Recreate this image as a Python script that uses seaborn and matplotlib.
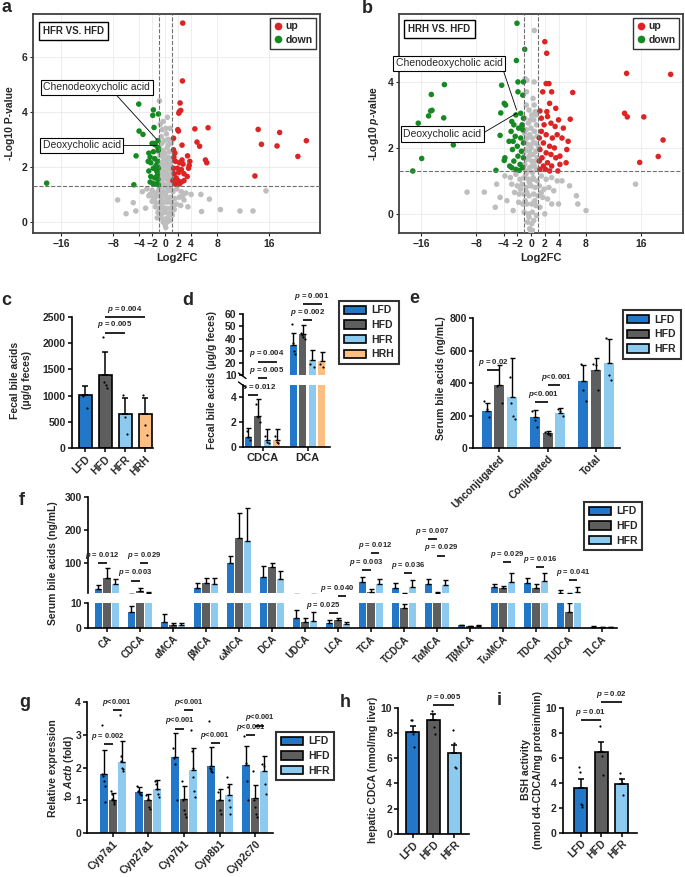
import numpy as np
import pandas as pd
import matplotlib
matplotlib.use("Agg")
import matplotlib.pyplot as plt
import seaborn as sns
from matplotlib.lines import Line2D
from matplotlib.patches import Patch

# ---------------- volcano data (log2FC, -log10 p) ----------------
a_ns = [(-0.87, 4.4), (-0.3, 3.65), (0.75, 3.4), (0.2, 3.2), (-0.6, 3.1), (0.5, 3.0), (-0.1, 2.95),
        (0.9, 2.85), (-0.9, 2.7), (0.3, 2.7), (-0.4, 2.6), (0.7, 2.55), (0.0, 2.5), (-0.8, 2.4),
        (0.5, 2.35), (-0.2, 2.3), (1.0, 2.25), (0.2, 2.2), (-0.6, 2.15), (0.8, 2.1), (-0.1, 2.05),
        (-1.0, 2.0), (0.4, 1.95), (-0.4, 1.9), (0.9, 1.85), (0.1, 1.8), (-0.7, 1.75), (0.6, 1.7),
        (-0.2, 1.65), (1.0, 1.6), (0.3, 1.55), (-0.9, 1.5), (-0.5, 1.45), (0.7, 1.4), (0.0, 1.35),
        (-0.3, 1.3), (0.4, 1.25), (-0.8, 1.25), (0.9, 1.2), (-0.1, 1.6), (0.5, 2.8), (-0.5, 2.85),
        (0.1, 3.4), (-0.7, 2.0), (0.6, 2.05), (-0.3, 2.45), (0.25, 1.7), (-0.55, 1.6), (0.85, 1.5),
        (-0.2, 1.1), (-3.5, 1.1), (-2.8, 1.2), (-2.0, 1.15), (-1.5, 1.05), (-1.0, 1.15), (-0.5, 1.0),
        (0.1, 1.05), (0.6, 1.15), (1.2, 1.1), (1.8, 1.2), (2.5, 1.1), (3.2, 1.05), (4.0, 1.0),
        (-2.5, 0.95), (-1.8, 0.9), (-1.2, 0.95), (-0.6, 0.85), (0.2, 0.9), (0.8, 0.9), (1.5, 0.85),
        (2.2, 0.9), (2.9, 0.8), (-2.0, 0.75), (-1.4, 0.7), (-0.8, 0.7), (-0.2, 0.72), (0.4, 0.72),
        (1.0, 0.7), (1.7, 0.65), (2.4, 0.6), (-1.5, 0.55), (-0.9, 0.5), (-0.4, 0.55), (0.2, 0.5),
        (0.8, 0.5), (1.4, 0.45), (-1.1, 0.35), (-0.5, 0.3), (0.0, 0.35), (0.6, 0.3), (1.1, 0.25),
        (-0.6, 0.15), (-0.1, 0.1), (0.4, 0.15), (0.0, -0.1), (-0.3, 0.0), (0.3, 0.0), (0.1, -0.2),
        (-0.75, 3.55), (0.35, 3.8), (-0.45, 3.35), (1.05, 2.95), (-1.05, 2.55), (1.1, 1.85),
        (-1.1, 1.7), (-0.35, 1.05), (0.35, 0.85), (-0.75, 0.5), (0.95, 0.4), (-0.2, 0.45),
        (-2.3, 1.0), (2.7, 0.95), (-1.6, 0.85), (1.3, 0.6), (-1.2, 0.15), (0.7, 0.05),
        (-7.3, 0.8), (-4.9, 0.7), (-4.5, 0.4), (5.5, 1.0), (6.8, 0.83), (15.5, 1.13), (11.5, 0.4),
        (13.5, 0.4), (5.6, 0.38), (3.5, 0.55), (-3.0, 0.5), (-6.0, 0.3), (8.5, 0.45)]
a_up = [(2.7, 7.22), (2.66, 5.12), (2.3, 4.32), (2.2, 4.01), (2.1, 3.95), (2.4, 4.05), (1.95, 3.35),
        (2.05, 3.3), (4.57, 3.38), (6.6, 3.42), (14.3, 3.36), (17.6, 3.25), (21.7, 2.95), (14.8, 2.82),
        (17.2, 2.76), (20.4, 2.38), (13.8, 1.67), (4.9, 2.9), (5.3, 2.75), (2.6, 2.79), (1.3, 3.04),
        (1.3, 2.62), (1.5, 2.5), (1.35, 2.35), (1.6, 2.2), (3.45, 2.4), (2.6, 2.25), (2.2, 2.15),
        (2.75, 2.1), (3.8, 2.2), (3.7, 2.05), (6.2, 2.25), (6.4, 2.15), (3.6, 1.95), (2.5, 1.9),
        (2.1, 1.8), (1.4, 1.75), (1.7, 1.6), (1.2, 1.5), (2.0, 1.5), (2.9, 1.5), (2.5, 1.45),
        (2.2, 1.38), (1.5, 1.38), (3.4, 1.65), (1.9, 1.95), (1.3, 1.95), (2.9, 1.75)]
a_down = [(-18.2, 1.41), (-4.8, 1.35), (-4.46, 2.4), (-4.05, 4.28), (-1.8, 4.07), (-1.9, 3.87),
          (-1.03, 3.92), (-1.7, 3.43), (-4.0, 3.3), (-3.4, 3.18), (-2.0, 2.85), (-1.7, 2.85),
          (-1.5, 2.8), (-1.1, 2.95), (-1.1, 2.7), (-1.05, 2.6), (-2.5, 2.5), (-2.3, 2.35), (-1.8, 2.55),
          (-1.6, 2.3), (-2.6, 2.2), (-2.2, 2.15), (-1.2, 2.2), (-1.4, 2.05), (-2.5, 1.85), (-1.8, 1.95),
          (-1.3, 1.85), (-1.05, 1.95), (-2.2, 1.65), (-1.6, 1.6), (-1.1, 1.55), (-1.9, 1.4),
          (-1.4, 1.38), (-1.05, 1.35), (-2.3, 1.45), (-1.2, 1.7)]

b_ns = [(0.48, 5.56), (0.45, 4.0), (-0.85, 4.1), (-0.6, 4.05), (0.3, 3.5), (-0.7, 3.3), (-0.3, 3.15),
        (0.6, 3.1), (0.1, 3.0), (-0.9, 2.9), (0.4, 2.85), (-0.4, 2.75), (0.8, 2.7), (0.0, 2.6),
        (-0.7, 2.55), (0.5, 2.5), (-0.2, 2.4), (0.9, 2.35), (0.2, 2.3), (-0.9, 2.2), (0.6, 2.15),
        (-0.4, 2.1), (0.0, 2.0), (-0.8, 1.95), (0.7, 1.9), (0.3, 1.8), (-0.3, 1.75), (0.9, 1.7),
        (-0.6, 1.65), (0.1, 1.6), (-0.9, 1.5), (0.5, 1.45), (-0.2, 1.4), (0.8, 1.35), (-0.5, 1.3),
        (0.2, 1.25), (-0.1, 2.85), (0.3, 2.15), (-0.55, 2.3), (0.65, 1.6), (-0.25, 1.9), (0.15, 1.45),
        (-0.75, 1.2), (0.45, 3.3), (-3.8, 1.15), (-3.0, 1.1), (-2.2, 1.2), (-1.6, 1.05), (-1.0, 1.1),
        (-0.4, 1.05), (0.3, 1.1), (0.9, 1.0), (1.5, 1.15), (2.2, 1.05), (3.0, 1.1), (3.8, 1.0),
        (4.5, 1.0), (-2.8, 0.9), (-2.0, 0.85), (-1.3, 0.9), (-0.7, 0.8), (0.0, 0.85), (0.6, 0.8),
        (1.2, 0.85), (1.9, 0.75), (2.6, 0.8), (3.3, 0.7), (-2.4, 0.65), (-1.7, 0.6), (-1.0, 0.6),
        (-0.3, 0.55), (0.4, 0.6), (1.0, 0.55), (1.7, 0.5), (2.4, 0.45), (-1.8, 0.35), (-1.2, 0.3),
        (-0.6, 0.3), (0.1, 0.3), (0.7, 0.25), (1.3, 0.2), (-1.0, 0.05), (-0.4, 0.0), (0.2, 0.05),
        (0.8, -0.05), (-0.5, -0.25), (0.1, -0.3), (0.4, -0.2), (-0.2, -0.45), (0.2, -0.5),
        (0.0, -0.55), (-3.5, 0.4), (3.0, 0.3), (-2.6, 0.1), (2.0, 0.0), (-0.65, 3.7), (0.75, 3.0),
        (-0.95, 2.45), (1.05, 2.05), (-1.05, 1.85), (0.35, 1.05), (-0.25, 0.95), (0.55, 0.4),
        (-0.85, 0.4), (-1.5, 0.75), (1.5, 0.65), (-0.3, -0.1), (-0.6, 0.65),
        (-9.3, 0.66), (-6.8, 0.66), (5.6, 0.85), (6.6, 0.55), (15.2, 0.9), (6.8, 0.3), (-5.0, 0.9),
        (-4.5, 0.5), (4.0, 0.3), (8.0, 0.1), (-5.2, 0.2)]
b_up = [(2.0, 5.22), (2.28, 4.87), (13.9, 4.26), (20.3, 4.23), (2.2, 3.95), (2.6, 3.95), (1.7, 3.7),
        (3.0, 3.7), (6.06, 3.68), (2.7, 3.35), (3.6, 3.2), (2.3, 3.1), (1.3, 3.12), (13.6, 3.05),
        (14.0, 2.94), (16.4, 2.94), (5.7, 2.87), (4.0, 2.85), (2.9, 2.75), (1.9, 2.7), (3.5, 2.65),
        (4.7, 2.6), (19.2, 2.24), (18.5, 1.74), (15.8, 1.56), (5.4, 2.2), (5.2, 1.95), (5.1, 1.55),
        (4.2, 1.75), (4.2, 1.5), (1.5, 2.5), (2.2, 2.4), (3.1, 2.3), (3.8, 2.4), (1.2, 2.3),
        (1.8, 2.15), (2.7, 2.05), (3.4, 2.0), (1.3, 1.95), (2.2, 1.85), (2.9, 1.8), (1.6, 1.7),
        (3.6, 1.7), (1.2, 1.6), (2.4, 1.55), (1.8, 1.45), (3.0, 1.45), (1.3, 1.35), (2.1, 1.35),
        (2.7, 1.3), (4.5, 2.3), (1.5, 2.9), (2.4, 2.95), (3.9, 1.3)]
b_down = [(-2.04, 5.78), (-0.92, 4.99), (-2.13, 4.65), (-1.9, 4.0), (-1.1, 4.0), (-1.9, 3.7),
          (-1.2, 3.6), (-4.27, 3.9), (-12.6, 3.92), (-14.5, 3.62), (-14.4, 3.14), (-14.6, 3.12),
          (-14.9, 2.97), (-12.7, 2.91), (-16.4, 2.75), (-11.3, 2.09), (-15.9, 1.68), (-17.2, 1.3),
          (-5.1, 1.32), (-4.5, 2.38), (-4.4, 3.06), (-3.9, 3.35), (-3.7, 3.3), (-2.8, 2.8), (-2.9, 2.5),
          (-3.8, 1.7), (-3.9, 1.62), (-2.2, 3.0), (-1.5, 3.05), (-1.1, 2.9), (-2.5, 2.7), (-1.8, 2.6),
          (-1.2, 2.55), (-2.3, 2.35), (-1.5, 2.3), (-3.2, 2.2), (-1.1, 2.15), (-2.0, 2.05), (-2.7, 1.95),
          (-1.4, 1.9), (-1.9, 1.75), (-1.1, 1.7), (-2.5, 1.6), (-1.6, 1.5), (-3.1, 1.45), (-1.2, 1.4),
          (-2.2, 1.35), (-1.7, 1.32), (-2.8, 1.4), (-1.3, 2.7), (-2.6, 2.2)]

fc_ticks = [-16, -8, -4, -2, 0, 2, 4, 8, 16]

# ---------------- bar data ----------------
diets4 = ["LFD", "HFD", "HFR", "HRH"]
diets3 = ["LFD", "HFD", "HFR"]

c_mean = [1020, 1390, 660, 650]
c_top = [1180, 1830, 960, 950]
c_dots = [[1000, 760], [2120, 1250, 1200, 1150], [1010, 600, 270], [1010, 440, 250]]

d_cats = ["CDCA", "DCA"]
d_mean = [[0.84, 34.8], [2.5, 44.0], [0.55, 22.5], [0.55, 21.5]]
d_top = [[1.5, 45.0], [3.9, 51.3], [1.45, 31.0], [1.45, 29.0]]
d_dots = [[[1.3, 0.8, 0.6], [52, 36, 30, 27]], [[3.5, 2.4, 2.0], [45, 43, 41, 40]],
          [[0.9, 0.4, 0.3], [19, 17]], [[0.9, 0.4, 0.3], [19, 17]]]

e_cats = ["Unconjugated", "Conjugated", "Total"]
e_mean = [[228, 192, 415], [388, 92, 480], [312, 218, 527]]
e_top = [[280, 236, 510], [512, 106, 556], [556, 247, 670]]
e_dots = [[[290, 240, 190], [230, 170, 130], [520, 360, 290]],
          [[380, 280], [100, 85, 80], [520, 510, 360]],
          [[440, 280, 200, 180], [240, 230, 200], [680, 450, 420]]]

f_cats = ["CA", "CDCA", "αMCA", "βMCA", "ωMCA", "DCA", "UDCA", "LCA",
          "TCA", "TCDCA", "TαMCA", "TβMCA", "TωMCA", "TDCA", "TUDCA", "TLCA"]
f_mean = [[22, 6.5, 2.6, 27, 100, 60, 4.3, 2.2, 45, 27, 38, 1.2, 30, 42, 12, 0.6],
          [57, 16, 1.2, 42, 175, 88, 2.4, 3.2, 15, 8, 11, 0.9, 27, 25, 6.6, 0.5],
          [38, 12, 1.5, 37, 167, 53, 3.0, 1.8, 38, 30, 35, 1.0, 45, 47, 15, 0.5]]
f_top = [[35, 9, 5.6, 40, 122, 92, 7.3, 3.3, 60, 40, 53, 1.5, 38, 55, 20, 0.8],
         [85, 25, 2.0, 57, 252, 102, 4.2, 4.2, 23, 9.7, 13, 1.1, 31, 38, 10.2, 0.7],
         [52, 14, 2.0, 55, 265, 77, 6.6, 2.5, 53, 50, 49, 1.2, 72, 70, 28, 0.6]]

g_cats = ["Cyp7a1", "Cyp27a1", "Cyp7b1", "Cyp8b1", "Cyp2c70"]
g_mean = [[1.8, 1.26, 2.32, 2.04, 2.07], [1.01, 1.01, 1.05, 1.02, 1.06], [2.17, 1.34, 1.92, 1.15, 1.9]]
g_top = [[2.52, 1.41, 3.05, 2.62, 2.65], [1.23, 1.2, 1.45, 1.35, 1.47], [2.81, 1.61, 2.59, 1.5, 2.34]]
g_dots = [[[3.3, 1.8, 1.75, 1.6, 1.45, 0.95], [1.45, 1.3, 1.25, 1.2, 1.15], [2.6, 2.3, 2.1, 1.0],
           [3.4, 2.0, 1.95, 1.9, 1.85], [2.95, 2.15, 1.6, 1.0]],
          [[1.3, 1.2, 1.05, 1.0, 0.95, 0.9], [1.15, 1.05, 0.8, 0.75], [1.6, 1.0, 0.7, 0.6, 0.5],
           [1.25, 1.0, 0.7, 0.6], [1.9, 1.0, 0.8, 0.6, 0.5]],
          [[3.6, 2.35, 2.2, 2.0, 1.95, 1.9], [1.6, 1.5, 1.35, 1.2, 1.1], [3.15, 2.5, 2.0, 1.7, 1.3, 1.1],
           [1.7, 1.4, 1.0, 0.8, 0.6], [2.1, 2.05, 1.5, 1.2]]]

h_mean = [8.1, 9.02, 6.39]
h_top = [8.55, 9.5, 7.05]
h_dots = [[9.0, 9.0, 8.1, 7.9, 6.9], [9.7, 9.5, 8.5, 7.9], [8.2, 7.2, 5.3, 5.2]]

i_mean = [3.62, 6.51, 3.89]
i_top = [4.32, 7.27, 4.29]
i_dots = [[5.3, 4.9, 2.3, 2.1, 2.2], [8.6, 6.6, 6.2, 4.6], [4.8, 4.3, 4.0, 3.0]]

PAL = {"LFD": "#2277C8", "HFD": "#5E5E5E", "HFR": "#8DCAF0", "HRH": "#FDBE82"}
RED, GREEN, GRAY = "#DD2424", "#168A22", "#BEBEBE"
PLT = "$p$<0.001"

sns.set_theme(style="ticks")
plt.rcParams["font.family"] = ["Liberation Sans", "DejaVu Sans"]
plt.rcParams["font.weight"] = "bold"
plt.rcParams["axes.labelweight"] = "bold"
plt.rcParams["mathtext.fontset"] = "custom"
plt.rcParams["mathtext.it"] = "Liberation Sans:italic:bold"
plt.rcParams["mathtext.rm"] = "Liberation Sans:bold"
plt.rcParams["mathtext.bf"] = "Liberation Sans:bold"

W, H = 685, 877
fig = plt.figure(figsize=(6.85, 8.77), dpi=100)


def px_axes(l, r, t, b, clear=True):
    ax = fig.add_axes([l / W, 1 - b / H, (r - l) / W, (b - t) / H])
    if clear:
        ax.patch.set_visible(False)
    return ax


def volcano(ax, ns, up, down, xlim, ylim, yticks, ylab, title, tpos, notes):
    pts = ns + up + down
    df = pd.DataFrame({"fc": [p[0] for p in pts], "lp": [p[1] for p in pts],
                       "kind": ["ns"] * len(ns) + ["up"] * len(up) + ["down"] * len(down)})
    sns.scatterplot(data=df, x="fc", y="lp", hue="kind", palette={"ns": GRAY, "up": RED, "down": GREEN},
                    s=16, linewidth=0, legend=False, ax=ax, zorder=3)
    ax.set_xlim(*xlim)
    ax.set_ylim(*ylim)
    ax.set_xticks(fc_ticks)
    ax.set_yticks(yticks)
    ax.grid(True, color="#EAEAEA", lw=0.6)
    ax.set_axisbelow(True)
    for v in (-1, 1):
        ax.axvline(v, ls="--", color="#707070", lw=0.8, zorder=4)
    ax.axhline(1.3, ls="--", color="#707070", lw=0.8, zorder=4)
    for s in ax.spines.values():
        s.set_color("#404040")
        s.set_linewidth(1.3)
    ax.tick_params(length=2, width=0.8, labelsize=7.5, pad=2)
    ax.set_xlabel("Log2FC", fontsize=8, labelpad=3)
    ax.set_ylabel(ylab, fontsize=7.5, labelpad=5)
    ax.text(tpos[0], tpos[1], title, transform=ax.transAxes, ha="left", va="top", fontsize=7,
            bbox=dict(boxstyle="square,pad=0.45", fc="white", ec="black", lw=1))
    for txt, txy, pxy, rel in notes:
        ax.annotate(txt, xy=pxy, xytext=txy, ha="center", va="center", fontsize=7.5, fontweight="normal",
                    bbox=dict(boxstyle="square,pad=0.25", fc="white", ec="black", lw=0.8),
                    arrowprops=dict(arrowstyle="-", color="black", lw=0.6, relpos=rel,
                                    shrinkA=0, shrinkB=0), zorder=6, annotation_clip=False)
    hands = [Line2D([], [], marker="o", ls="", color=RED, markersize=4.5, label="up"),
             Line2D([], [], marker="o", ls="", color=GREEN, markersize=4.5, label="down")]
    leg = ax.legend(handles=hands, loc="upper right", fontsize=7.5, frameon=True, fancybox=False,
                    edgecolor="black", handlelength=0.8, handletextpad=0.3, borderpad=0.35,
                    labelspacing=0.35, borderaxespad=0.35)
    leg.get_frame().set_linewidth(1)


def bar_style(ax, xlim, ylim, yticks, bottom=True):
    sns.despine(ax=ax)
    ax.set_xlim(*xlim)
    ax.set_ylim(*ylim)
    ax.set_yticks(yticks)
    ax.set_xlabel("")
    ax.set_ylabel("")
    for s in ax.spines.values():
        s.set_linewidth(1.2)
        s.set_color("black")
    ax.tick_params(length=3, width=1.1, labelsize=7.5, pad=1.5, color="black")
    if not bottom:
        ax.spines["bottom"].set_visible(False)
        ax.tick_params(axis="x", bottom=False, labelbottom=False)


def rotate(ax, size=7.5):
    ax.tick_params(axis="x", labelsize=size, pad=1)
    for lab in ax.get_xticklabels():
        lab.set_rotation(45)
        lab.set_ha("right")
        lab.set_rotation_mode("anchor")


def dots_at(ax, x, vals, spread):
    n = len(vals)
    offs = np.linspace(-spread, spread, n) if n > 1 else [0]
    ax.scatter(np.array(offs) + x, vals, s=2.5, color="black", linewidth=0, zorder=4)


def single(ax, groups, mean, top, dots, width):
    sns.barplot(x=groups, y=mean, hue=groups, palette=PAL, errorbar=None, width=width, saturation=1,
                edgecolor="black", linewidth=1.2, legend=False, ax=ax, zorder=2)
    bars = sorted(ax.patches, key=lambda p: p.get_x())
    xs = [b.get_x() + b.get_width() / 2 for b in bars]
    ax.errorbar(xs, mean, yerr=[np.zeros(len(xs)), np.array(top) - np.array(mean)], fmt="none",
                ecolor="black", elinewidth=1.1, capsize=2.2, capthick=1.1, zorder=3)
    for x, v in zip(xs, dots):
        dots_at(ax, x, v, width * 0.12)
    return xs


def grouped(ax, cats, groups, mean, top, width, gap, dots=None):
    rows = [(c, g, mean[i][j]) for i, g in enumerate(groups) for j, c in enumerate(cats)]
    df = pd.DataFrame(rows, columns=["cat", "grp", "val"])
    sns.barplot(data=df, x="cat", y="val", hue="grp", order=cats, hue_order=groups, palette=PAL,
                errorbar=None, width=width, gap=gap, saturation=1, linewidth=0, legend=False,
                ax=ax, zorder=2)
    conts = list(ax.containers)[:len(groups)]
    centers = []
    for i, cont in enumerate(conts):
        xs = [b.get_x() + b.get_width() / 2 for b in cont]
        centers.append(xs)
        ax.errorbar(xs, mean[i], yerr=[np.zeros(len(xs)), np.array(top[i]) - np.array(mean[i])],
                    fmt="none", ecolor="black", elinewidth=1, capsize=1.8, capthick=1, zorder=3)
        if dots is not None:
            for j, x in enumerate(xs):
                dots_at(ax, x, dots[i][j], width / len(groups) * 0.2)
    return centers


def sig(ax, x0, x1, y, label, dx=0.0, fs=5.7):
    ax.plot([x0, x1], [y, y], color="black", lw=1.2, clip_on=False, solid_capstyle="butt", zorder=5)
    ax.annotate(label, xy=((x0 + x1) / 2 + dx, y), xytext=(0, 1.6), textcoords="offset points",
                ha="center", va="bottom", fontsize=fs, annotation_clip=False)


def legend_box(groups, x, y):
    hands = [Patch(facecolor=PAL[g], edgecolor="black", linewidth=1.2, label=g) for g in groups]
    leg = fig.legend(handles=hands, loc="upper left", bbox_to_anchor=(x / W, 1 - y / H), fontsize=7.5,
                     frameon=True, fancybox=False, edgecolor="black", handlelength=2.1,
                     handleheight=0.85, handletextpad=0.5, borderpad=0.45, labelspacing=0.45,
                     borderaxespad=0)
    leg.get_frame().set_linewidth(1.5)


def ylab(x, y, text, size=7.5):
    fig.text(x / W, 1 - y / H, text, rotation=90, ha="center", va="center", fontsize=size,
             linespacing=1.35, multialignment="center")


def letter(x, y, s):
    fig.text(x / W, 1 - y / H, s, fontsize=13, fontweight="bold", ha="left", va="baseline")


# ---------------- a / b : volcano plots ----------------
ax_a = px_axes(33, 320, 14, 233, clear=False)
volcano(ax_a, a_ns, a_up, a_down, (-20.3, 23.8), (-0.4, 7.55), [0, 2, 4, 6], "-Log10 P-value",
        "HFR VS. HFD", (0.035, 0.945),
        [("Chenodeoxycholic acid", (-10.5, 4.89), (-1.3, 3.0), (0.66, 0)),
         ("Deoxycholic acid", (-12.8, 2.78), (-1.3, 2.78), (1, 0.5))])
ax_b = px_axes(399, 683, 14, 233, clear=False)
volcano(ax_b, b_ns, b_up, b_down, (-19.2, 22.1), (-0.58, 6.06), [0, 2, 4], "-Log10 $p$-value",
        "HRH VS. HFD", (0.032, 0.954),
        [("Chenodeoxycholic acid", (-11.9, 4.56), (-2.1, 3.15), (1, 0)),
         ("Deoxycholic acid", (-12.9, 2.42), (-2.1, 3.05), (1, 0.5))])

# ---------------- c ----------------
ax_c = px_axes(72, 153, 316.7, 448.3)
xc = single(ax_c, diets4, c_mean, c_top, c_dots, 0.65)
bar_style(ax_c, (-0.65, 3.4), (0, 2500), [0, 500, 1000, 1500, 2000, 2500])
rotate(ax_c)
sig(ax_c, xc[1], xc[2], 2198, "$p$ = 0.005")
sig(ax_c, xc[1], xc[3], 2490, "$p$ = 0.004")

# ---------------- d (broken axis) ----------------
ax_dt = px_axes(242.7, 330, 314.3, 375)
ax_db = px_axes(242.7, 330, 385.5, 447)
for ax in (ax_dt, ax_db):
    cd = grouped(ax, d_cats, diets4, d_mean, d_top, 0.83, 0.25, d_dots)
bar_style(ax_dt, (-0.44, 1.5), (10, 60), [10, 20, 30, 40, 50, 60], bottom=False)
bar_style(ax_db, (-0.44, 1.5), (0, 4.96), [0, 2, 4])
ax_db.tick_params(axis="x", labelsize=8)
sig(ax_db, cd[0][0], cd[1][0], 4.2, "$p$ = 0.012", dx=0.12)
sig(ax_dt, cd[1][0], cd[2][0], 7.3, "$p$ = 0.005", dx=0.1)
sig(ax_dt, cd[1][0], cd[3][0], 21, "$p$ = 0.004")
sig(ax_dt, cd[1][1], cd[2][1], 54.9, "$p$ = 0.002")
sig(ax_dt, cd[1][1], cd[3][1], 68.7, "$p$ = 0.001")
for y0 in (373, 382):
    fig.add_artist(Line2D([238.5 / W, 246 / W], [1 - y0 / H, 1 - (y0 + 5.5) / H], color="black", lw=1))
legend_box(diets4, 339.3, 300.7)

# ---------------- e ----------------
ax_e = px_axes(473.3, 620, 318.3, 448)
ce = grouped(ax_e, e_cats, diets3, e_mean, e_top, 0.79, 0.21, e_dots)
bar_style(ax_e, (-0.54, 2.5), (0, 800), [0, 200, 400, 600, 800])
rotate(ax_e)
sig(ax_e, ce[0][0], ce[1][0], 480, "$p$ = 0.02")
sig(ax_e, ce[0][1], ce[1][1], 282, PLT, dx=0.05)
sig(ax_e, ce[1][1], ce[2][1], 386, PLT, dx=0.05)
legend_box(diets3, 622.7, 310)

# ---------------- f (broken axis) ----------------
ax_ft = px_axes(88, 617, 496.7, 593.3)
ax_fb = px_axes(88, 617, 603.3, 628.3)
for ax in (ax_ft, ax_fb):
    cf = grouped(ax, f_cats, diets3, f_mean, f_top, 0.77, 0.12)
bar_style(ax_ft, (-0.57, 15.46), (10, 300), [100, 200, 300], bottom=False)
bar_style(ax_fb, (-0.57, 15.46), (0, 10), [0, 10])
rotate(ax_fb, 7)
fsig = [(0, 0, 1, 100, "$p$ = 0.012"), (1, 0, 1, 48, "$p$ = 0.003"), (1, 1, 2, 100, "$p$ = 0.029"),
        (8, 0, 1, 80, "$p$ = 0.003"), (8, 1, 2, 130, "$p$ = 0.012"), (9, 1, 2, 70, "$p$ = 0.036"),
        (10, 0, 1, 173, "$p$ = 0.007"), (10, 1, 2, 123, "$p$ = 0.029"), (12, 1, 2, 103, "$p$ = 0.029"),
        (13, 1, 2, 88, "$p$ = 0.016"), (14, 1, 2, 50, "$p$ = 0.041"), (7, 1, 2, 1.9, "$p$ = 0.040")]
for j, g0, g1, y, lab in fsig:
    sig(ax_ft, cf[g0][j], cf[g1][j], y, lab, dx=-0.15 if j == 7 else 0, fs=5.5)
sig(ax_fb, cf[0][7], cf[1][7], 6.2, "$p$ = 0.025", dx=-0.3, fs=5.5)
legend_box(diets3, 584.3, 501.7)

# ---------------- g ----------------
ax_g = px_axes(87.3, 272.7, 701.7, 833.3)
cg = grouped(ax_g, g_cats, diets3, g_mean, g_top, 0.76, 0.12, g_dots)
bar_style(ax_g, (-0.71, 4.49), (0, 4), [0, 1, 2, 3, 4])
rotate(ax_g)
for j, g0, g1, y, lab in [(0, 0, 1, 2.7, "$p$ = 0.002"), (0, 1, 2, 3.74, PLT),
                          (2, 0, 1, 3.18, PLT), (2, 1, 2, 3.74, PLT),
                          (3, 0, 1, 2.75, PLT), (4, 0, 1, 2.98, PLT),
                          (4, 1, 2, 3.27, PLT)]:
    sig(ax_g, cg[g0][j], cg[g1][j], y, lab, fs=5.4)
legend_box(diets3, 276, 731.7)

# ---------------- h ----------------
ax_h = px_axes(398.3, 469.3, 707.7, 834)
xh = single(ax_h, diets3, h_mean, h_top, h_dots, 0.64)
bar_style(ax_h, (-0.69, 2.72), (0, 10), [0, 2, 4, 6, 8, 10])
rotate(ax_h)
sig(ax_h, xh[1], xh[2], 10.2, "$p$ = 0.005")

# ---------------- i ----------------
ax_i = px_axes(562.7, 636.7, 708.3, 832.7)
xi = single(ax_i, diets3, i_mean, i_top, i_dots, 0.63)
bar_style(ax_i, (-0.88, 2.73), (0, 10), [0, 2, 4, 6, 8, 10])
rotate(ax_i)
sig(ax_i, xi[0], xi[1], 9.06, "$p$ = 0.01")
sig(ax_i, xi[1], xi[2], 10.5, "$p$ = 0.02")

# ---------------- axis titles and panel letters ----------------
ylab(21, 380, "Fecal bile acids\n(μg/g feces)")
ylab(212, 380, "Fecal bile acids (μg/g feces)")
ylab(441, 378, "Serum bile acids (ng/mL)")
ylab(53, 563, "Serum bile acids (ng/mL)")
ylab(62, 768, "Relative expression\nto $Actb$ (fold)")
ylab(373, 770, "hepatic CDCA (nmol/mg liver)")
ylab(532, 770, "BSH activity\n(nmol d4-CDCA/mg protein/min)")

for x, y, s in [(1, 12, "a"), (362, 13, "b"), (1, 305, "c"), (182, 305, "d"), (409, 303, "e"),
                (19, 505, "f"), (19, 707, "g"), (340, 707, "h"), (497, 705, "i")]:
    letter(x, y, s)

fig.savefig("out.png", dpi=100)
